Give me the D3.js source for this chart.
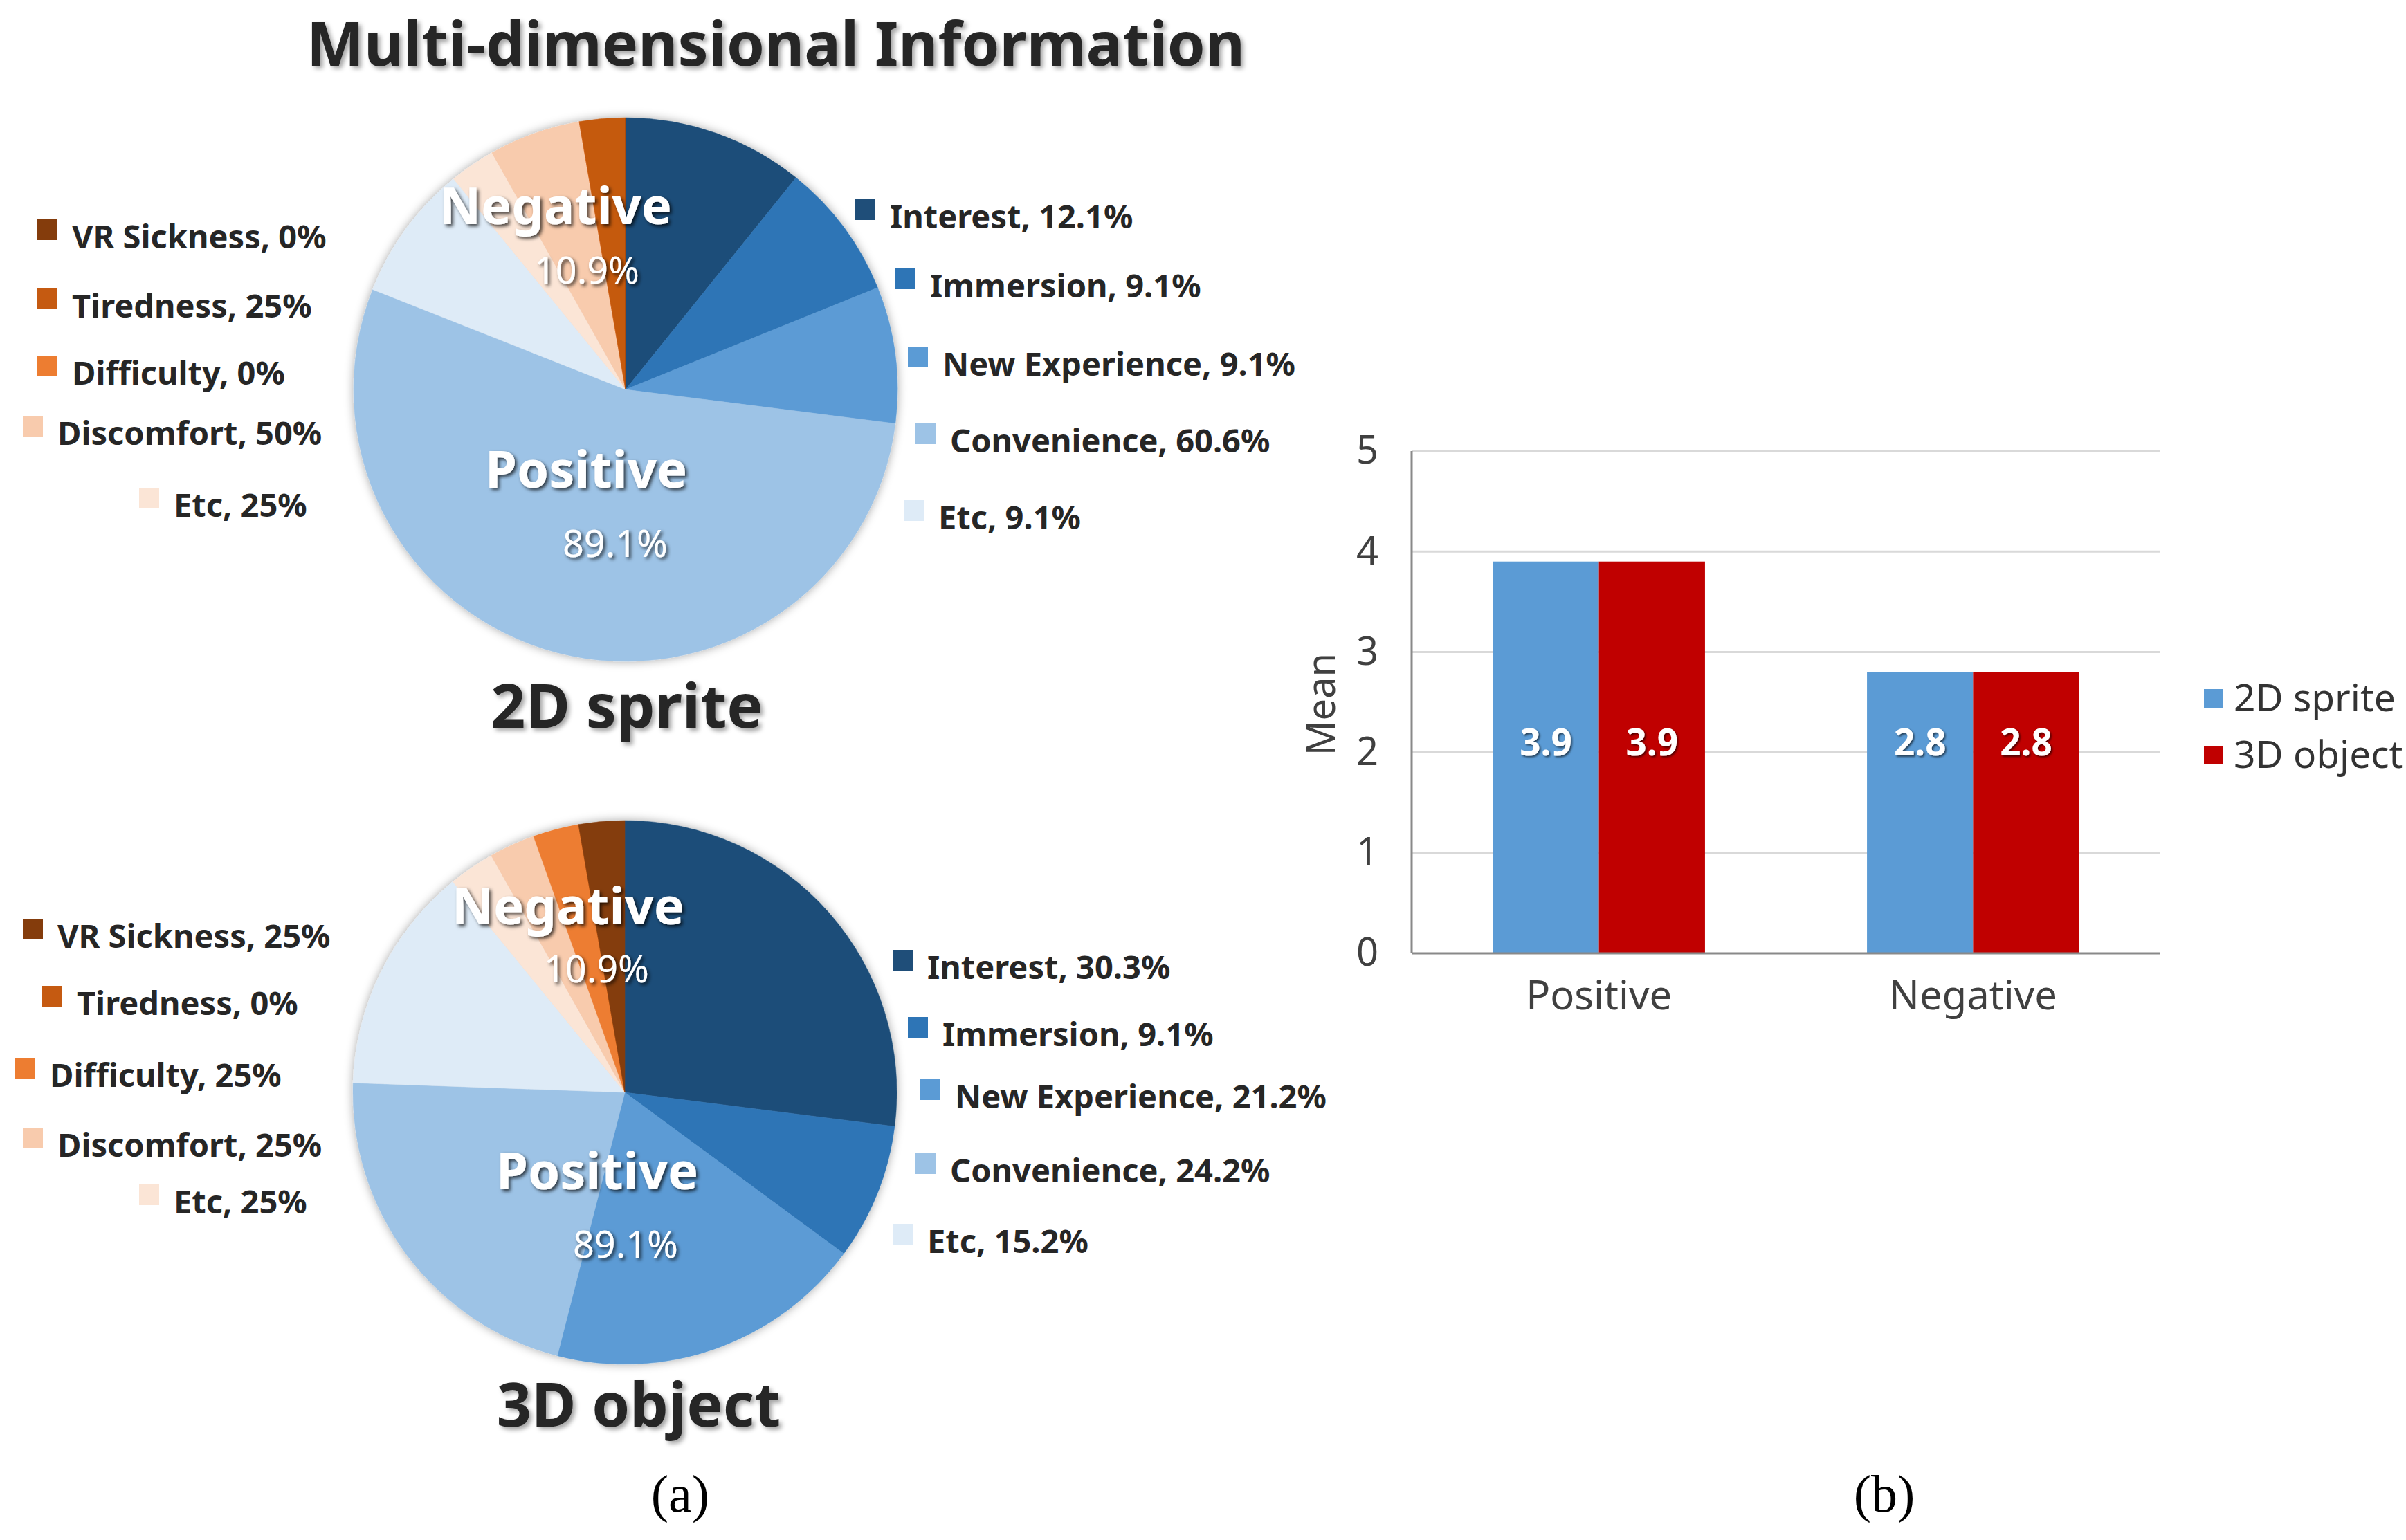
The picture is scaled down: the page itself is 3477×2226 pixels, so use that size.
<!DOCTYPE html>
<html>
<head>
<meta charset="utf-8">
<script src="https://cdn.jsdelivr.net/npm/d3@7"></script>
<style>
  body { margin: 0; background: #fff; }
  svg { display: block; }
  text { font-family: "Noto Sans", "DejaVu Sans", sans-serif; }
</style>
</head>
<body>
<svg id="chart" width="3477" height="2226"></svg>
<script>
// ---- data ----
const positiveCats = ["Interest", "Immersion", "New Experience", "Convenience", "Etc"];
// clockwise order after the positive part, ends at 12 o'clock
const negativeCats = ["Etc", "Discomfort", "Difficulty", "Tiredness", "VR Sickness"];
const groupShares = [89.1, 10.9];          // Positive, Negative
const groupNames = ["Positive", "Negative"];

const sprite2DPositive = [12.1, 9.1, 9.1, 60.6, 9.1];
const sprite2DNegative = [25, 50, 0, 25, 0];
const object3DPositive = [30.3, 9.1, 21.2, 24.2, 15.2];
const object3DNegative = [25, 25, 25, 0, 25];

const barCats = ["Positive", "Negative"];
const barSeries = ["2D sprite", "3D object"];
const sprite2DMean = [3.9, 2.8];
const object3DMean = [3.9, 2.8];
const meanTicks = [0, 1, 2, 3, 4, 5];

// ---- colours ----
const positiveColors = ["#1F4E79", "#2E75B6", "#5B9BD5", "#9DC3E6", "#DEEBF7"];
const negativeColors = ["#FBE5D6", "#F8CBAD", "#ED7D31", "#C55A11", "#843C0C"];
const seriesColors = ["#5B9BD5", "#C00000"];

const svg = d3.select("#chart");

// filters
const defs = svg.append("defs");
function shadow(id, dx, dy, sd, op, col) {
  defs.append("filter").attr("id", id)
    .attr("x", "-20%").attr("y", "-20%").attr("width", "140%").attr("height", "140%")
    .append("feDropShadow")
    .attr("dx", dx).attr("dy", dy).attr("stdDeviation", sd)
    .attr("flood-color", col).attr("flood-opacity", op);
}
shadow("titleShadow", 4, 4, 3, 0.35, "#000");
shadow("labelShadow", 3, 3, 2.5, 0.7, "#000");
shadow("pieShadow", 0, 0, 7, 0.35, "#000");
shadow("valShadow", 2, 2, 1.5, 0.6, "#000");

// title
svg.append("text")
  .attr("x", 1121).attr("y", 95)
  .attr("text-anchor", "middle")
  .attr("font-size", 88).attr("font-weight", "bold")
  .attr("fill", "#262626")
  .attr("filter", "url(#titleShadow)")
  .text("Multi-dimensional Information");

// ---- pies ----
const pieCharts = [
  {
    name: "2D sprite", pos: sprite2DPositive, neg: sprite2DNegative,
    cx: 904, cy: 563, titleX: 906, titleY: 1052,
    labels: [[847, 705, 889, 805], [803, 324, 848, 410]],
    posLegend: [[1236, 288], [1294, 388], [1312, 501], [1323, 612], [1306, 723]],
    negLegend: [[54, 317], [54, 417], [54, 514], [33, 601], [201, 705]]
  },
  {
    name: "3D object", pos: object3DPositive, neg: object3DNegative,
    cx: 903, cy: 1579, titleX: 923, titleY: 2062,
    labels: [[863, 1719, 904, 1818], [821, 1336, 862, 1420]],
    posLegend: [[1290, 1373], [1312, 1470], [1330, 1560], [1323, 1667], [1290, 1769]],
    negLegend: [[33, 1328], [61, 1425], [22, 1529], [33, 1630], [201, 1712]]
  }
];
const radius = 393;
const arc = d3.arc().innerRadius(0).outerRadius(radius);
const pie = d3.pie().sort(null).value(d => d.v);

pieCharts.forEach(pc => {
  const slices = [];
  positiveCats.forEach((c, i) => slices.push({
    cat: c, raw: pc.pos[i], v: pc.pos[i] * groupShares[0] / 100, color: positiveColors[i]
  }));
  negativeCats.forEach((c, i) => slices.push({
    cat: c, raw: pc.neg[i], v: pc.neg[i] * groupShares[1] / 100, color: negativeColors[i]
  }));

  const g = svg.append("g").attr("transform", `translate(${pc.cx},${pc.cy})`);
  g.append("g").attr("filter", "url(#pieShadow)")
    .selectAll("path")
    .data(pie(slices))
    .enter().append("path")
    .attr("d", arc)
    .attr("fill", d => d.data.color)
    .attr("stroke", d => d.data.color)
    .attr("stroke-width", 0.5);

  // group labels
  groupNames.forEach((gn, i) => {
    const p = pc.labels[i];
    svg.append("text")
      .attr("x", p[0]).attr("y", p[1])
      .attr("text-anchor", "middle")
      .attr("font-size", 74).attr("font-weight", "bold")
      .attr("fill", "#fff").attr("filter", "url(#labelShadow)")
      .text(gn);
    svg.append("text")
      .attr("x", p[2]).attr("y", p[3])
      .attr("text-anchor", "middle")
      .attr("font-size", 54)
      .attr("fill", "#fff").attr("filter", "url(#labelShadow)")
      .text(groupShares[i] + "%");
  });

  // chart name
  svg.append("text")
    .attr("x", pc.titleX).attr("y", pc.titleY)
    .attr("text-anchor", "middle")
    .attr("font-size", 88).attr("font-weight", "bold")
    .attr("fill", "#262626").attr("filter", "url(#titleShadow)")
    .text(pc.name);

  // legends
  const posItems = positiveCats.map((c, i) => ({
    label: c + ", " + pc.pos[i] + "%", color: positiveColors[i], at: pc.posLegend[i]
  }));
  // negative legend lists VR Sickness first
  const negItems = negativeCats.map((c, i) => ({
    label: c + ", " + pc.neg[i] + "%", color: negativeColors[i]
  })).reverse();
  negItems.forEach((d, i) => d.at = pc.negLegend[i]);

  const leg = svg.append("g").selectAll("g")
    .data(posItems.concat(negItems))
    .enter().append("g")
    .attr("transform", d => `translate(${d.at[0]},${d.at[1]})`);
  leg.append("rect")
    .attr("width", 29).attr("height", 30)
    .attr("fill", d => d.color);
  leg.append("text")
    .attr("x", 50).attr("y", 42)
    .attr("font-size", 47).attr("font-weight", "bold")
    .attr("fill", "#262626")
    .text(d => d.label);
});

// ---- bar chart ----
const plot = { left: 2040, right: 3122, top: 652, bottom: 1378 };
const y = d3.scaleLinear().domain([0, 5]).range([plot.bottom, plot.top]);
const x0 = d3.scaleBand().domain(barCats).range([plot.left, plot.right])
  .paddingInner(0.433).paddingOuter(0.217);
const x1 = d3.scaleBand().domain(barSeries).range([0, x0.bandwidth()]);
const valueLevel = 2.1; // height where Excel put the data labels

// grid
svg.append("g").selectAll("line")
  .data(meanTicks.filter(t => t > 0))
  .enter().append("line")
  .attr("x1", plot.left).attr("x2", plot.right)
  .attr("y1", d => y(d)).attr("y2", d => y(d))
  .attr("stroke", "#d9d9d9").attr("stroke-width", 3);

const barData = barCats.map((c, i) => ({
  cat: c, vals: [sprite2DMean[i], object3DMean[i]]
}));
const grp = svg.append("g").selectAll("g")
  .data(barData)
  .enter().append("g")
  .attr("transform", d => `translate(${x0(d.cat)},0)`);
grp.selectAll("rect")
  .data(d => d.vals.map((v, j) => ({ s: barSeries[j], v: v, j: j })))
  .enter().append("rect")
  .attr("x", d => x1(d.s))
  .attr("width", x1.bandwidth())
  .attr("y", d => y(d.v))
  .attr("height", d => y(0) - y(d.v))
  .attr("fill", d => seriesColors[d.j]);
grp.selectAll("text.val")
  .data(d => d.vals.map((v, j) => ({ s: barSeries[j], v: v })))
  .enter().append("text")
  .attr("class", "val")
  .attr("x", d => x1(d.s) + x1.bandwidth() / 2)
  .attr("y", y(valueLevel))
  .attr("dy", "0.35em")
  .attr("text-anchor", "middle")
  .attr("font-size", 53).attr("font-weight", "bold")
  .attr("fill", "#fff").attr("filter", "url(#valShadow)")
  .text(d => d.v.toFixed(1));

// axes lines
svg.append("line")
  .attr("x1", plot.left).attr("x2", plot.left)
  .attr("y1", y(5)).attr("y2", y(0))
  .attr("stroke", "#898989").attr("stroke-width", 3);
svg.append("line")
  .attr("x1", plot.left).attr("x2", plot.right)
  .attr("y1", y(0)).attr("y2", y(0))
  .attr("stroke", "#898989").attr("stroke-width", 3);

const yAxis = svg.append("g")
  .attr("transform", `translate(${plot.left},0)`)
  .call(d3.axisLeft(y).tickValues(meanTicks).tickSize(0).tickPadding(48).tickFormat(d3.format("d")));
yAxis.select(".domain").remove();
yAxis.selectAll("text")
  .attr("font-size", 56).attr("fill", "#404040")
  .style("font-family", "'Noto Sans', sans-serif");

const xAxis = svg.append("g")
  .attr("transform", `translate(0,${plot.bottom})`)
  .call(d3.axisBottom(x0).tickSize(0).tickPadding(40));
xAxis.select(".domain").remove();
xAxis.selectAll("text")
  .attr("font-size", 58).attr("fill", "#404040")
  .style("font-family", "'Noto Sans', sans-serif");

svg.append("text")
  .attr("transform", "translate(1909,1018) rotate(-90)")
  .attr("text-anchor", "middle").attr("dy", "0.35em")
  .attr("font-size", 56).attr("fill", "#404040")
  .text("Mean");

// bar legend
const bl = svg.append("g").selectAll("g")
  .data(barSeries)
  .enter().append("g")
  .attr("transform", (d, i) => `translate(3185,${996 + i * 82})`);
bl.append("rect").attr("width", 27).attr("height", 27)
  .attr("fill", (d, i) => seriesColors[i]);
bl.append("text").attr("x", 43).attr("y", 32)
  .attr("font-size", 55).attr("fill", "#333")
  .text(d => d);

// panel captions
[["(a)", 983], ["(b)", 2723]].forEach(c => {
  svg.append("text")
    .attr("x", c[1]).attr("y", 2185)
    .attr("text-anchor", "middle")
    .attr("font-size", 76).attr("fill", "#000")
    .style("font-family", "'Liberation Serif', 'Times New Roman', serif")
    .text(c[0]);
});
</script>
</body>
</html>
